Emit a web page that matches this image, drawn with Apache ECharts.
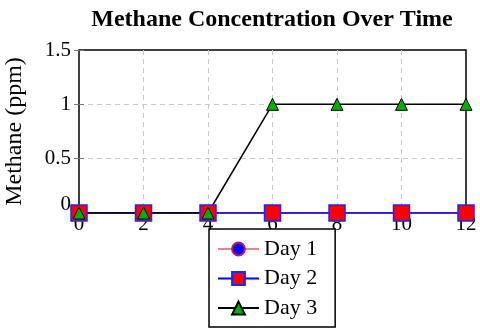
<!DOCTYPE html>
<html>
<head>
<meta charset="utf-8">
<script src="https://cdn.jsdelivr.net/npm/echarts@6/dist/echarts.min.js"></script>
<style>
  html, body { margin: 0; padding: 0; background: #fff; }
  #chart { width: 480px; height: 333px; }
</style>
</head>
<body>
<div id="chart"></div>
<script>
  // hours on the x axis
  const hours = [0, 2, 4, 6, 8, 10, 12];
  const day1 = [0, 0, 0, 0, 0, 0, 0];
  const day2 = [0, 0, 0, 0, 0, 0, 0];
  const day3 = [0, 0, 0, 1, 1, 1, 1];
  const seriesNames = ['Day 1', 'Day 2', 'Day 3'];

  const serif = 'Liberation Serif, Times New Roman, serif';
  const pair = (vals) => hours.map((h, i) => [h, vals[i]]);
  const dashed = { show: true, showMinLine: false, showMaxLine: false,
    lineStyle: { color: '#c8c8c8', type: [5, 4], width: 1 } };
  const innerTick = { show: true, inside: true, length: 5, lineStyle: { color: '#777' } };

  const chart = echarts.init(document.getElementById('chart'));

  const option = {
    animation: false,
    title: {
      text: 'Methane Concentration Over Time',
      left: 267, top: 3, textAlign: 'center',
      textStyle: { fontFamily: serif, fontSize: 24, fontWeight: 'bold', color: '#000' }
    },
    grid: {
      left: 79, right: 14, top: 50, bottom: 120,
      outerBoundsMode: 'none', containLabel: false,
      show: true, borderColor: '#000', borderWidth: 1.5, backgroundColor: 'transparent'
    },
    legend: {
      orient: 'vertical',
      left: 209, top: 229,
      padding: [9, 18, 8, 8],
      itemGap: 7.5,
      itemWidth: 41, itemHeight: 16,
      backgroundColor: '#fff',
      borderColor: '#000', borderWidth: 1.5, borderRadius: 0,
      textStyle: { fontFamily: serif, fontSize: 22, color: '#000', lineHeight: 22 },
      data: seriesNames
    },
    xAxis: [{
      type: 'value', min: 0, max: 12, interval: 2,
      axisLine: { show: false },
      axisTick: { show: false },
      axisLabel: { fontFamily: serif, fontSize: 21, color: '#000', margin: 1 },
      splitLine: dashed
    }, {
      type: 'value', min: 0, max: 12, interval: 2, position: 'top',
      axisLine: { show: false }, axisLabel: { show: false }, splitLine: { show: false },
      axisTick: innerTick
    }],
    yAxis: [{
      type: 'value', min: 0, max: 1.5, interval: 0.5,
      name: 'Methane (ppm)', nameLocation: 'middle', nameGap: 52,
      nameTextStyle: { fontFamily: serif, fontSize: 24, color: '#000' },
      axisLine: { show: false },
      axisTick: innerTick,
      axisLabel: {
        fontFamily: serif, fontSize: 21, color: '#000', margin: 8,
        formatter: (v) => v === 0 ? '{z|0}' : String(v),
        rich: { z: { fontFamily: serif, fontSize: 21, color: '#000', padding: [0, 0, 18, 0] } }
      },
      splitLine: dashed
    }, {
      type: 'value', min: 0, max: 1.5, interval: 0.5, position: 'right',
      axisLine: { show: false }, axisLabel: { show: false }, splitLine: { show: false },
      axisTick: innerTick
    }],
    series: [{
      name: 'Day 1', type: 'line', data: pair(day1),
      symbol: 'circle', symbolSize: 14,
      lineStyle: { color: '#e08888', width: 1.5 },
      itemStyle: { color: '#0000ff', borderColor: '#c0186a', borderWidth: 2 }
    }, {
      name: 'Day 2', type: 'line', data: pair(day2),
      symbol: 'rect', symbolSize: 16,
      lineStyle: { color: '#0000ff', width: 1.5 },
      itemStyle: { color: '#ff0000', borderColor: '#2222ff', borderWidth: 1.5 }
    }, {
      name: 'Day 3', type: 'line', data: pair(day3),
      symbol: 'triangle', symbolSize: 12,
      lineStyle: { color: '#000', width: 1.5 },
      itemStyle: { color: '#00b000', borderColor: '#000', borderWidth: 1 }
    }]
  };

  chart.setOption(option);
</script>
</body>
</html>
